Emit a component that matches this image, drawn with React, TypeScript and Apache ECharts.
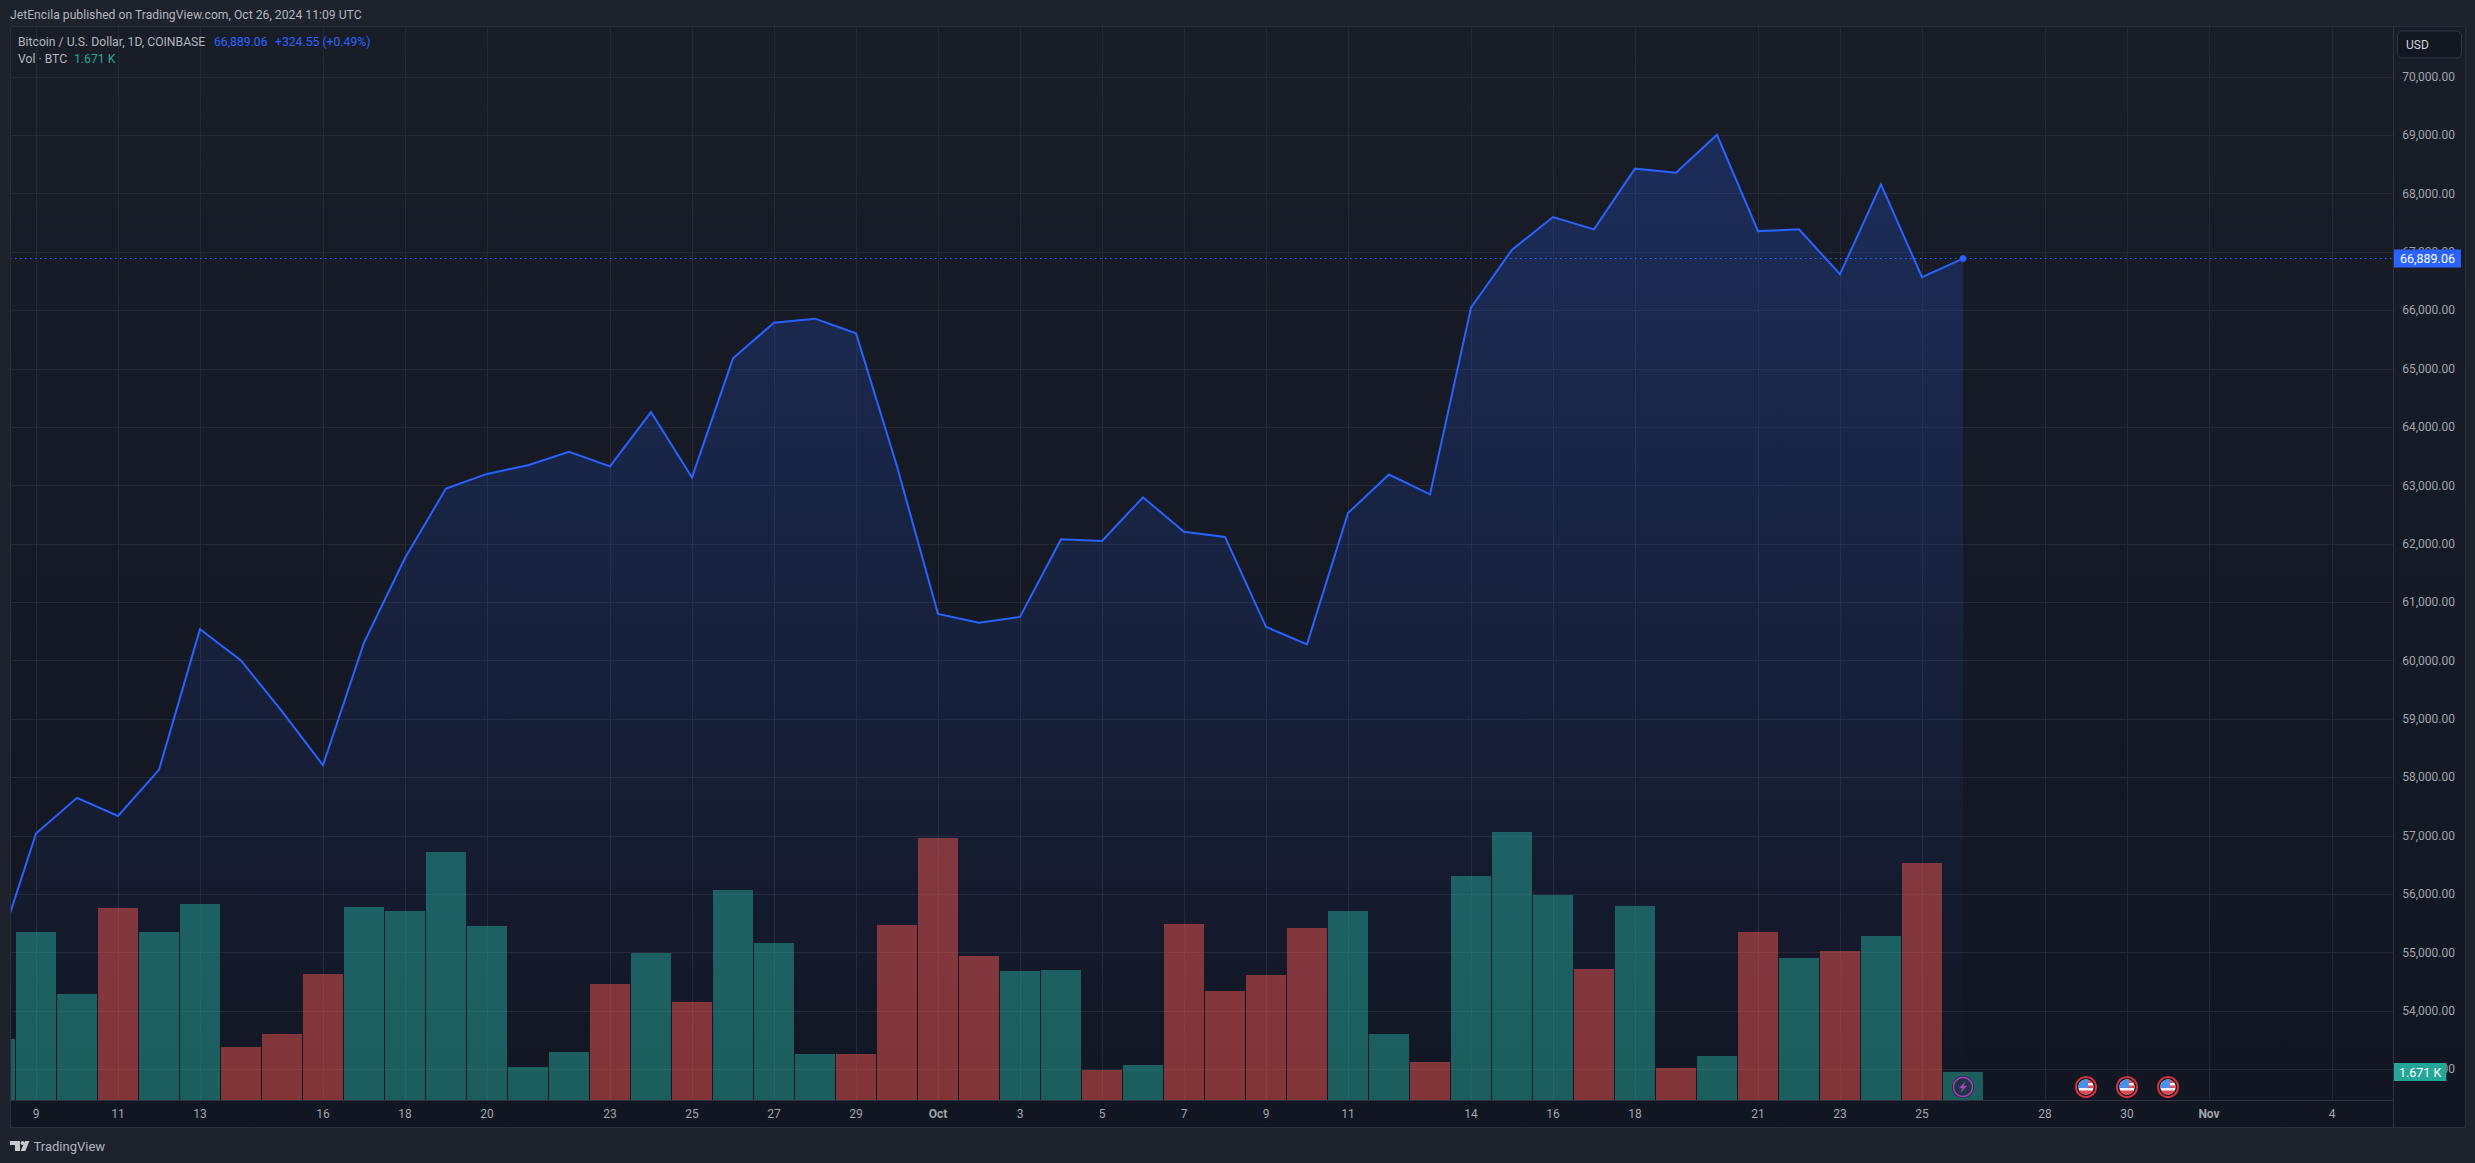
import React, { useEffect, useRef } from "react";
import * as echarts from "echarts";

// x position = day number, 0 = Sep 8 2024
const priceCloses = [
  54880, 57040, 57650, 57340, 58130, 60540, 60005, 59130, 58210, 60310, 61760, 62950, 63200, 63350, 63580, 63330,
  64260, 63140, 65180, 65790, 65860, 65610, 63330, 60800, 60650, 60750, 62080, 62050, 62800, 62210, 62120, 60580,
  60280, 62530, 63190, 62850, 66050, 67040, 67600, 67390, 68430, 68360, 69010, 67360, 67390, 66620, 68160, 66570,
  66889.06,
];
const volumes = [
  3640, 10026, 6326, 11459, 10026, 11697, 3163, 3939, 7520, 11518, 11280, 14801, 10384, 1969, 2865, 6923, 8773, 5849,
  12533, 9370, 2745, 2745, 10444, 15636, 8594, 7699, 7758, 1790, 2089, 10504, 6505, 7460, 10265, 11280, 3939, 2268,
  13368, 15994, 12234, 7818, 11578, 1910, 2626, 10026, 8475, 8892, 9788, 14144, 1671,
];
// 1 = up volume (green), 0 = down volume (red)
const volumeUp = [
  1, 1, 1, 0, 1, 1, 0, 0, 0, 1, 1, 1, 1, 1, 1, 0, 1, 0, 1, 1, 1, 0, 0, 0, 0, 1, 1, 0, 1, 0, 0, 0, 0, 1, 1, 0, 1, 1, 1,
  0, 1, 0, 1, 0, 1, 0, 1, 0, 1,
];
const tickDays = [1, 3, 5, 8, 10, 12, 15, 17, 19, 21, 23, 25, 27, 29, 31, 33, 36, 38, 40, 43, 45, 47, 50, 52, 54, 57];
const tickLabels = [
  "9", "11", "13", "16", "18", "20", "23", "25", "27", "29", "Oct", "3", "5", "7", "9", "11", "14", "16", "18", "21",
  "23", "25", "28", "30", "Nov", "4",
];
const priceTicks = [
  53000, 54000, 55000, 56000, 57000, 58000, 59000, 60000, 61000, 62000, 63000, 64000, 65000, 66000, 67000, 68000,
  69000, 70000,
];
const lightningDays = [48];
const flagDays = [51, 52, 53];
const lastPrice = 66889.06;
const lastVolume = 1671;

const W = 2475;
const H = 1163;
const PANE_L = 10;
const PANE_T = 27;
const PANE_R = 2393;
const PANE_B = 1100;
const OUTER_R = 2465;
const OUTER_B = 1127;
const DAY_PX = 41;
const DAY0_PX = -5;
const PRICE_AT_TOP = 70000 + (77 - PANE_T) / 0.05837;
const PRICE_AT_BOTTOM = 70000 - (PANE_B - 77) / 0.05837;
const VOLUME_AXIS_MAX = ((PANE_B - PANE_T) * lastVolume) / 28;
const MARKER_PRICE = 70000 - (1087 - 77) / 0.05837;

const FONT = "Roboto, 'Noto Sans', sans-serif";
const BLUE = "#2962ff";
const GREEN = "#22ab94";
const BAR_UP = "#26a69a";
const BAR_DOWN = "#ef5350";
const OUTER = "#1e222d";
const GRID = "#252934";
const TEXT = "#b2b5be";
const AXIS_TEXT = "#a0a3ac";

const clippedCircle = (cx: number, cy: number, r: number, x0: number, x1: number, y0: number, y1: number) => {
  const pts: number[][] = [];
  for (let a = 0; a < 48; a++) {
    const t = (a / 48) * Math.PI * 2;
    pts.push([
      cx + Math.min(x1, Math.max(x0, r * Math.cos(t))),
      cy + Math.min(y1, Math.max(y0, r * Math.sin(t))),
    ]);
  }
  return pts;
};

const renderFlag = (_p: any, api: any) => {
  const [cx, cy] = api.coord([api.value(0), api.value(1)]);
  const r = 7.6;
  const part = (fill: string, x0: number, x1: number, y0: number, y1: number) => ({
    type: "polygon",
    shape: { points: clippedCircle(cx, cy, r, x0, x1, y0, y1) },
    style: { fill },
  });
  return {
    type: "group",
    children: [
      { type: "circle", shape: { cx, cy, r: 10 }, style: { fill: "#131722", stroke: "#d8303f", lineWidth: 2 } },
      part("#f0f2f5", -r, r, -r, r),
      part("#e8484f", 2, r, -r, -4),
      part("#e8484f", 2, r, -1.5, 1),
      part("#e8484f", -r, r, 3.5, r),
      part("#4a90e8", -r, 2, -r, 1),
    ],
  };
};

const renderLightning = (_p: any, api: any) => {
  const [cx, cy] = api.coord([api.value(0), api.value(1)]);
  const bolt = [[2.8, -6.2], [-4.2, 1.2], [-0.6, 1.2], [-2.8, 6.2], [4.2, -1.2], [0.6, -1.2]];
  return {
    type: "group",
    children: [
      { type: "circle", shape: { cx, cy, r: 11 }, style: { fill: "#1a2230" } },
      { type: "circle", shape: { cx, cy, r: 9.5 }, style: { fill: "#1f3544", stroke: "#a03fb8", lineWidth: 1.6 } },
      { type: "polygon", shape: { points: bolt.map(([x, y]) => [cx + x, cy + y]) }, style: { fill: "#a042b8" } },
    ],
  };
};

const txt = (text: string, x: number, y: number, fill: string, size = 12.2) => ({
  type: "text",
  z: 100,
  silent: true,
  style: {
    text,
    x,
    y,
    fill,
    font: `400 ${size}px ${FONT}`,
    textVerticalAlign: "middle",
    textAlign: "left",
  },
});

export default function App() {
  const ref = useRef<HTMLDivElement>(null);
  useEffect(() => {
    document.body.style.margin = "0";
    document.body.style.overflow = "hidden";
    document.body.style.background = OUTER;
    const chart = echarts.init(ref.current!, null, { renderer: "svg" });
    const tickText = new Map(tickDays.map((d, i) => [d, tickLabels[i]]));
    chart.setOption({
      animation: false,
      backgroundColor: OUTER,
      textStyle: { fontFamily: FONT },
      grid: { left: PANE_L, top: PANE_T, width: PANE_R - PANE_L, height: PANE_B - PANE_T, containLabel: false },
      xAxis: {
        type: "value",
        min: (PANE_L - DAY0_PX) / DAY_PX,
        max: (PANE_R - DAY0_PX) / DAY_PX,
        axisLine: { show: true, onZero: false, lineStyle: { color: "#2f333f", width: 1 } },
        axisTick: { show: false, customValues: tickDays },
        splitLine: { show: true, lineStyle: { color: GRID, width: 1 } },
        axisLabel: {
          customValues: tickDays,
          margin: 8,
          color: AXIS_TEXT,
          fontSize: 12,
          fontFamily: FONT,
          hideOverlap: false,
          formatter: (v: number) => {
            const s = tickText.get(v) ?? "";
            return s === "Oct" || s === "Nov" ? `{m|${s}}` : s;
          },
          rich: { m: { fontWeight: 700, color: AXIS_TEXT, fontSize: 12, fontFamily: FONT } },
        },
      },
      yAxis: [
        {
          type: "value",
          position: "right",
          min: PRICE_AT_BOTTOM,
          max: PRICE_AT_TOP,
          axisLine: { show: false },
          axisTick: { show: false, customValues: priceTicks },
          splitLine: { show: true, lineStyle: { color: GRID, width: 1 } },
          axisLabel: {
            customValues: priceTicks,
            margin: 62,
            align: "right",
            color: AXIS_TEXT,
            fontSize: 12,
            fontFamily: FONT,
            padding: [0, 0, 2, 0],
            formatter: (v: number) => v.toLocaleString("en-US", { minimumFractionDigits: 2 }),
          },
        },
        {
          type: "value",
          position: "right",
          min: 0,
          max: VOLUME_AXIS_MAX,
          show: false,
          splitLine: { show: false },
        },
      ],
      series: [
        {
          type: "line",
          name: "Bitcoin / U.S. Dollar",
          yAxisIndex: 0,
          z: 2,
          symbol: "none",
          showSymbol: true,
          lineStyle: { color: BLUE, width: 2, join: "miter" },
          itemStyle: { color: BLUE },
          areaStyle: {
            origin: "start",
            color: new echarts.graphic.LinearGradient(0, 0, 0, 1, [
              { offset: 0, color: "rgba(41,98,255,0.33)" },
              { offset: 1, color: "rgba(41,98,255,0)" },
            ]),
          },
          data: priceCloses.map((v, i) =>
            i === priceCloses.length - 1
              ? { value: [i, v], symbol: "circle", symbolSize: 7 }
              : { value: [i, v] }
          ),
          markLine: {
            silent: true,
            symbol: "none",
            animation: false,
            lineStyle: { color: BLUE, type: [1.5, 3.5], width: 1.2 },
            label: {
              show: true,
              position: "end",
              distance: 1,
              formatter: () => lastPrice.toLocaleString("en-US", { minimumFractionDigits: 2 }),
              color: "#ffffff",
              fontSize: 12.5,
              fontWeight: 400,
              fontFamily: FONT,
              backgroundColor: BLUE,
              padding: [3, 6, 2, 6],
            },
            data: [{ yAxis: lastPrice }],
          },
        },
        {
          type: "bar",
          name: "Vol",
          yAxisIndex: 1,
          z: 3,
          barWidth: 40,
          data: volumes.map((v, i) => ({
            value: [i, v],
            itemStyle: { color: volumeUp[i] ? BAR_UP : BAR_DOWN, opacity: 0.5 },
          })),
          markLine: {
            silent: true,
            symbol: "none",
            animation: false,
            z: 60,
            lineStyle: { color: "rgba(0,0,0,0)", width: 1 },
            label: {
              show: true,
              position: "end",
              distance: 1,
              formatter: () => "1.671 K",
              color: "#ffffff",
              fontSize: 12.5,
              fontWeight: 400,
              fontFamily: FONT,
              backgroundColor: BAR_UP,
              padding: [3, 5, 2, 5],
            },
            data: [{ yAxis: lastVolume }],
          },
        },
        {
          type: "custom",
          name: "Dividends",
          yAxisIndex: 0,
          z: 5,
          clip: false,
          silent: true,
          encode: { x: 0, y: 1 },
          renderItem: renderLightning,
          data: lightningDays.map((d) => [d, MARKER_PRICE]),
        },
        {
          type: "custom",
          name: "Economic events",
          yAxisIndex: 0,
          z: 5,
          clip: false,
          silent: true,
          encode: { x: 0, y: 1 },
          renderItem: renderFlag,
          data: flagDays.map((d) => [d, MARKER_PRICE]),
        },
      ],
      graphic: {
        elements: [
          {
            type: "rect",
            z: -10,
            silent: true,
            shape: { x: PANE_L, y: PANE_T, width: OUTER_R - PANE_L, height: OUTER_B - PANE_T },
            style: {
              fill: new echarts.graphic.LinearGradient(0, 0, 0, 1, [
                { offset: 0, color: "#191d28" },
                { offset: 1, color: "#121622" },
              ]),
            },
          },
          // left margin: the partly visible first bar stops at the pane edge
          {
            type: "rect",
            z: 40,
            silent: true,
            shape: { x: 0, y: PANE_T, width: PANE_L, height: OUTER_B - PANE_T },
            style: { fill: OUTER },
          },
          {
            type: "rect",
            z: 41,
            silent: true,
            shape: { x: PANE_L + 0.5, y: PANE_T - 0.5, width: OUTER_R - PANE_L, height: OUTER_B - PANE_T + 1 },
            style: { fill: "none", stroke: "#2a2e39", lineWidth: 1 },
          },
          {
            type: "line",
            z: 50,
            silent: true,
            shape: { x1: PANE_R + 0.5, y1: PANE_T, x2: PANE_R + 0.5, y2: OUTER_B },
            style: { stroke: "#2f333f", lineWidth: 1 },
          },
          txt("JetEncila published on TradingView.com, Oct 26, 2024 11:09 UTC", 10, 15, TEXT),
          txt("Bitcoin / U.S. Dollar, 1D, COINBASE", 18, 42, TEXT),
          txt("66,889.06", 214, 42, BLUE),
          txt("+324.55 (+0.49%)", 275, 42, BLUE),
          txt("Vol · BTC", 18, 59, TEXT),
          txt("1.671 K", 74, 59, GREEN),
          {
            type: "rect",
            z: 60,
            silent: true,
            shape: { x: 2397.5, y: 31, width: 64, height: 27, r: 5 },
            style: { fill: "#131722", stroke: "#333742", lineWidth: 1 },
          },
          txt("USD", 2406, 44.5, "#d1d4dc", 12),
          // TradingView logo
          {
            type: "polygon",
            z: 100,
            silent: true,
            shape: { points: [[10, 1141], [20, 1141], [20, 1151], [15, 1151], [15, 1145], [10, 1145]] },
            style: { fill: "#c8cad0" },
          },
          { type: "circle", z: 100, silent: true, shape: { cx: 22.5, cy: 1143, r: 1.9 }, style: { fill: "#c8cad0" } },
          {
            type: "polygon",
            z: 100,
            silent: true,
            shape: { points: [[25, 1141], [29.5, 1141], [25.2, 1151], [20.6, 1151]] },
            style: { fill: "#c8cad0" },
          },
          txt("TradingView", 33.5, 1146, "#b2b5be", 13),
        ],
      },
    });
    return () => chart.dispose();
  }, []);
  return <div ref={ref} style={{ width: W, height: H }} />;
}
